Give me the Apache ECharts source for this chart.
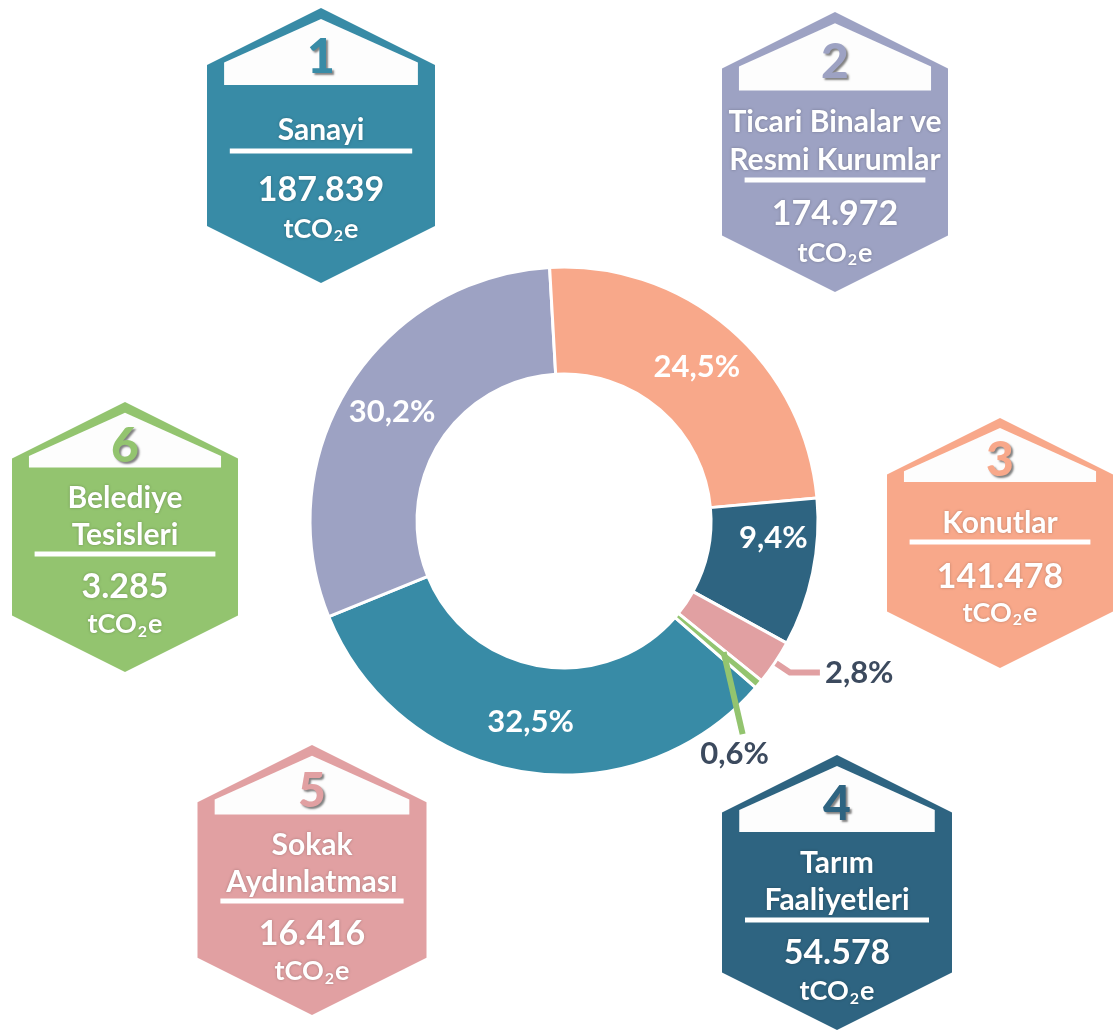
<!DOCTYPE html>
<html>
<head>
<meta charset="UTF-8">
<title>Sektörel Emisyonlar</title>
<script src="https://cdn.jsdelivr.net/npm/echarts@6/dist/echarts.min.js"></script>
</head>
<body style="margin: 0; background: #fff">
<div id="container" style="width: 1113px; height: 1033px"></div>
<script>
// sectors in the order of the numbered boxes
const sectorNumbers = ['1', '2', '3', '4', '5', '6'];
const sectorNames = ['Sanayi', 'Ticari Binalar ve Resmi Kurumlar', 'Konutlar',
    'Tarım Faaliyetleri', 'Sokak Aydınlatması', 'Belediye Tesisleri'];
const sectorTitles = [['Sanayi'], ['Ticari Binalar ve', 'Resmi Kurumlar'], ['Konutlar'],
    ['Tarım', 'Faaliyetleri'], ['Sokak', 'Aydınlatması'], ['Belediye', 'Tesisleri']];
const emissions = [187839, 174972, 141478, 54578, 16416, 3285];   // tCO2e

const colors = ['#388ba6', '#9da2c3', '#f8a88a', '#2e6481', '#e1a0a2', '#93c46f'];
const FONT = 'Lato, "Open Sans", sans-serif';

// where each hexagon sits: centre x, top, width, height, text shift
const boxes = [
    {cx: 321, top: 8, w: 228, h: 275, dy: 0},
    {cx: 835, top: 12, w: 226, h: 280, dy: 0},
    {cx: 1000, top: 418, w: 226, h: 250, dy: -6},
    {cx: 837, top: 755, w: 230, h: 275, dy: 0},
    {cx: 312, top: 745, w: 229, h: 270, dy: -6},
    {cx: 125, top: 402, w: 226, h: 270, dy: -10}
];

const total = emissions.reduce((a, b) => a + b, 0);
const fmtNum = v => String(v).replace(/\B(?=(\d{3})+(?!\d))/g, '.');
const fmtPct = v => (v / total * 100).toFixed(1).replace('.', ',') + '%';

const white = '#ffffff';
const textShadow = {textShadowColor: 'rgba(0,0,0,0.25)', textShadowBlur: 3};

function boxGraphics(i) {
    const b = boxes[i];
    const l = b.cx - b.w / 2, r = b.cx + b.w / 2, k = b.w / 4;
    const bottom = b.top + b.h;
    const els = [];
    els.push({
        type: 'polygon', silent: true,
        shape: {points: [[b.cx, b.top], [r, b.top + k], [r, bottom - k], [b.cx, bottom], [l, bottom - k], [l, b.top + k]]},
        style: {fill: colors[i]}
    });
    // white "roof" at the top
    const inset = b.w * 0.075;
    const peak = b.top + b.h * 0.04;
    const shoulder = peak + (b.w / 2 - inset) * 0.45;
    const base = Math.max(b.top + b.h * 0.28 + b.dy, shoulder + 10);
    els.push({
        type: 'polygon', silent: true,
        shape: {points: [[b.cx, peak], [r - inset, shoulder], [r - inset, base], [l + inset, base], [l + inset, shoulder]]},
        style: {fill: '#fdfdfd'}
    });
    els.push({
        type: 'text', silent: true, x: b.cx, y: (peak + base) / 2 + 6,
        style: {
            text: sectorNumbers[i], fill: colors[i], fontSize: 48, fontWeight: 900, fontFamily: FONT,
            align: 'center', verticalAlign: 'middle',
            textShadowColor: 'rgba(30,30,30,0.55)', textShadowBlur: 2, textShadowOffsetX: 2, textShadowOffsetY: 2
        }
    });
    const lines = sectorTitles[i];
    const f = lines.length === 1 ? [0.444, 0.52, 0.662, 0.804] : [0.393, 0.6, 0.721, 0.861];
    const y = t => b.top + b.h * t + b.dy;
    lines.forEach((txt, j) => {
        els.push({
            type: 'text', silent: true, x: b.cx, y: lines.length === 1 ? y(f[0]) : y(0.393 + j * 0.136),
            style: Object.assign({
                text: txt, fill: white, fontSize: 30, fontWeight: 'bold', fontFamily: FONT,
                align: 'center', verticalAlign: 'middle'
            }, textShadow)
        });
    });
    els.push({
        type: 'rect', silent: true,
        shape: {x: b.cx - b.w * 0.4, y: y(f[1]) - 2.5, width: b.w * 0.8, height: 5},
        style: {fill: white}
    });
    els.push({
        type: 'text', silent: true, x: b.cx, y: y(f[2]),
        style: Object.assign({
            text: fmtNum(emissions[i]), fill: white, fontSize: 34, fontWeight: 'bold', fontFamily: FONT,
            align: 'center', verticalAlign: 'middle'
        }, textShadow)
    });
    els.push({
        type: 'text', silent: true, x: b.cx, y: y(f[3]),
        style: Object.assign({
            text: '{a|tCO}{s|2}{a|e}', align: 'center', verticalAlign: 'middle',
            rich: {
                a: {fill: white, fontSize: 27, fontWeight: 'bold', fontFamily: FONT, lineHeight: 30},
                s: {fill: white, fontSize: 16, fontWeight: 'bold', fontFamily: FONT, lineHeight: 18, padding: [14, 1, 0, 1]}
            }
        }, textShadow)
    });
    return els;
}

let graphics = [];
boxes.forEach((b, i) => { graphics = graphics.concat(boxGraphics(i)); });

const insideLabel = {position: 'inside', color: white, fontSize: 31, fontWeight: 'bold', fontFamily: FONT};
const outsideLabel = {position: 'outside', color: '#3c4a5e', fontSize: 31, fontWeight: 'bold', fontFamily: FONT};
const SMALLEST = emissions.indexOf(Math.min(...emissions));

const pieData = emissions.map((v, i) => {
    const small = v / total < 0.05;
    const item = {
        value: v,
        name: sectorNames[i],
        itemStyle: {color: colors[i]},
        label: Object.assign({}, small ? outsideLabel : insideLabel),
        labelLine: {show: small, length: 18, length2: 30, lineStyle: {color: colors[i], width: 6}}
    };
    if (i === 3) item.label.offset = [10, -24];
    if (i === SMALLEST) { item.label.show = false; item.labelLine.show = false; }
    return item;
});

// same slices, invisible, drawn on top: only carries the smallest slice's label,
// so its leader line can run across the ring
const overlayData = emissions.map((v, i) => ({
    value: v,
    name: sectorNames[i],
    itemStyle: {color: 'rgba(0,0,0,0)', borderWidth: 0},
    label: Object.assign({}, outsideLabel, {show: i === SMALLEST}),
    labelLine: {show: i === SMALLEST, lineStyle: {color: colors[i], width: 6}}
}));

const ring = {
    type: 'pie',
    center: [564, 521],
    radius: [147, 254],
    startAngle: 319,
    clockwise: true,
    avoidLabelOverlap: false,
    label: {formatter: p => fmtPct(p.value)}
};

const dom = document.getElementById('container');
const myChart = echarts.init(dom);
const option = {
    animation: false,
    backgroundColor: '#fff',
    graphic: graphics,
    series: [
        Object.assign({}, ring, {
            z: 2,
            itemStyle: {borderColor: '#fff', borderWidth: 3},
            data: pieData
        }),
        Object.assign({}, ring, {
            z: 3,
            silent: true,
            labelLayout: function (params) {
                // label sits below the slice, the line running down through the ring
                if (params.dataIndex !== SMALLEST || !params.labelLinePoints) return {};
                const a = params.labelLinePoints[0];
                const start = [a[0] - 35, a[1] - 32];
                const end = [a[0] - 16, a[1] + 50];
                return {
                    x: end[0] - 8, y: end[1] + 4, align: 'center', verticalAlign: 'top',
                    labelLinePoints: [start, end, end]
                };
            },
            data: overlayData
        })
    ]
};
myChart.setOption(option);
</script>
</body>
</html>
